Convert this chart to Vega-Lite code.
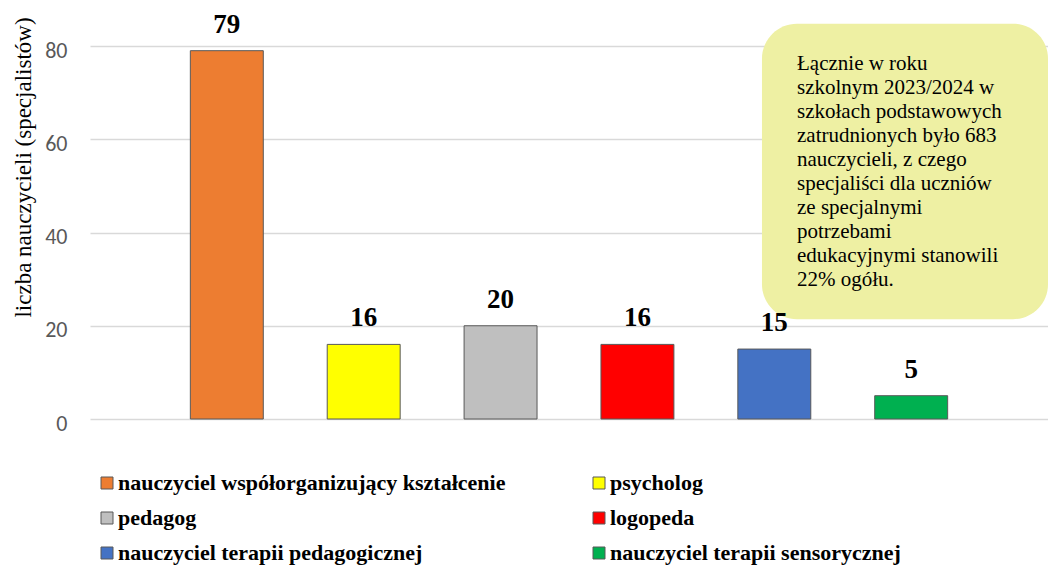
{
  "$schema": "https://vega.github.io/schema/vega-lite/v6.json",
  "width": 958,
  "height": 419,
  "autosize": {"type": "none"},
  "padding": {"left": 90, "top": 0, "right": 0, "bottom": 148},
  "background": "white",
  "config": {"view": {"stroke": null}},
  "datasets": {
    "bars": [
      {"kategoria": "nauczyciel współorganizujący kształcenie", "liczba": 79},
      {"kategoria": "psycholog", "liczba": 16},
      {"kategoria": "pedagog", "liczba": 20},
      {"kategoria": "logopeda", "liczba": 16},
      {"kategoria": "nauczyciel terapii pedagogicznej", "liczba": 15},
      {"kategoria": "nauczyciel terapii sensorycznej", "liczba": 5}
    ],
    "box": [{"x1": 4.91, "x2": 7.0, "y1": 21.4, "y2": 84.8}],
    "note": [{"x": 5.166, "y": 74.85, "t": "Łącznie w roku\nszkolnym 2023/2024 w\nszkołach podstawowych\nzatrudnionych było 683\nnauczycieli, z czego\nspecjaliści dla uczniów\nze specjalnymi\npotrzebami\nedukacyjnymi stanowili\n22% ogółu."}]
  },
  "layer": [
    {
      "data": {"name": "box"},
      "mark": {"type": "rect", "fill": "#EEF0A3", "cornerRadius": 35},
      "encoding": {
        "x": {"field": "x1", "type": "quantitative", "scale": {"domain": [0, 7], "nice": false, "zero": false}, "axis": null},
        "x2": {"field": "x2"},
        "y": {"field": "y1", "type": "quantitative"},
        "y2": {"field": "y2"}
      }
    },
    {
      "data": {"name": "note"},
      "mark": {"type": "text", "align": "left", "baseline": "alphabetic", "lineBreak": "\n", "lineHeight": 24, "font": "Liberation Serif", "fontSize": 21, "color": "#000000"},
      "encoding": {
        "x": {"field": "x", "type": "quantitative", "scale": {"domain": [0, 7], "nice": false, "zero": false}, "axis": null},
        "y": {"field": "y", "type": "quantitative"},
        "text": {"field": "t", "type": "nominal"}
      }
    },
    {
      "data": {"name": "bars"},
      "layer": [
        {
          "mark": {"type": "bar", "stroke": "#595959", "strokeWidth": 1},
          "encoding": {
            "x": {
              "field": "kategoria", "type": "nominal", "sort": null,
              "scale": {"paddingInner": 0.467, "paddingOuter": 0.733},
              "axis": null
            },
            "y": {
              "field": "liczba", "type": "quantitative",
              "scale": {"domain": [0, 89.87], "nice": false, "zero": true},
              "axis": {
                "values": [0, 20, 40, 60, 80],
                "title": "liczba nauczycieli  (specjalistów)",
                "titleFont": "Liberation Serif",
                "titleFontSize": 23,
                "titleFontWeight": "normal",
                "titleColor": "#000000",
                "titleAngle": -90,
                "titleX": -60,
                "titleY": 167,
                "titleAlign": "center",
                "titleBaseline": "alphabetic",
                "domain": false,
                "ticks": false,
                "grid": true,
                "gridColor": "#D9D9D9",
                "gridWidth": 1.5,
                "labelFont": "Carlito, Calibri, Open Sans",
                "labelFontSize": 22,
                "labelColor": "#595959",
                "labelPadding": 23,
                "labelOffset": 4
              }
            },
            "color": {
              "field": "kategoria", "type": "nominal",
              "scale": {
                "domain": ["nauczyciel współorganizujący kształcenie", "psycholog", "pedagog", "logopeda", "nauczyciel terapii pedagogicznej", "nauczyciel terapii sensorycznej"],
                "range": ["#ED7D31", "#FFFF00", "#BFBFBF", "#FF0000", "#4472C4", "#00B050"]
              },
              "legend": {
                "title": null,
                "orient": "none",
                "direction": "horizontal",
                "legendX": 6,
                "legendY": 472,
                "columns": 2,
                "columnPadding": 82,
                "rowPadding": 13,
                "symbolType": "square",
                "symbolSize": 144,
                "symbolStrokeColor": "#595959",
                "symbolStrokeWidth": 1,
                "symbolOpacity": 1,
                "labelFont": "Liberation Serif",
                "labelFontSize": 22,
                "labelFontWeight": "bold",
                "labelColor": "#000000",
                "labelOffset": 0,
                "labelLimit": 600
              }
            }
          }
        },
        {
          "mark": {"type": "text", "dy": -18, "baseline": "alphabetic", "font": "Liberation Serif", "fontSize": 27, "fontWeight": "bold", "color": "#000000"},
          "encoding": {
            "x": {"field": "kategoria", "type": "nominal", "sort": null},
            "y": {"field": "liczba", "type": "quantitative"},
            "text": {"field": "liczba", "type": "quantitative"}
          }
        }
      ]
    }
  ],
  "resolve": {"scale": {"x": "independent"}}
}
